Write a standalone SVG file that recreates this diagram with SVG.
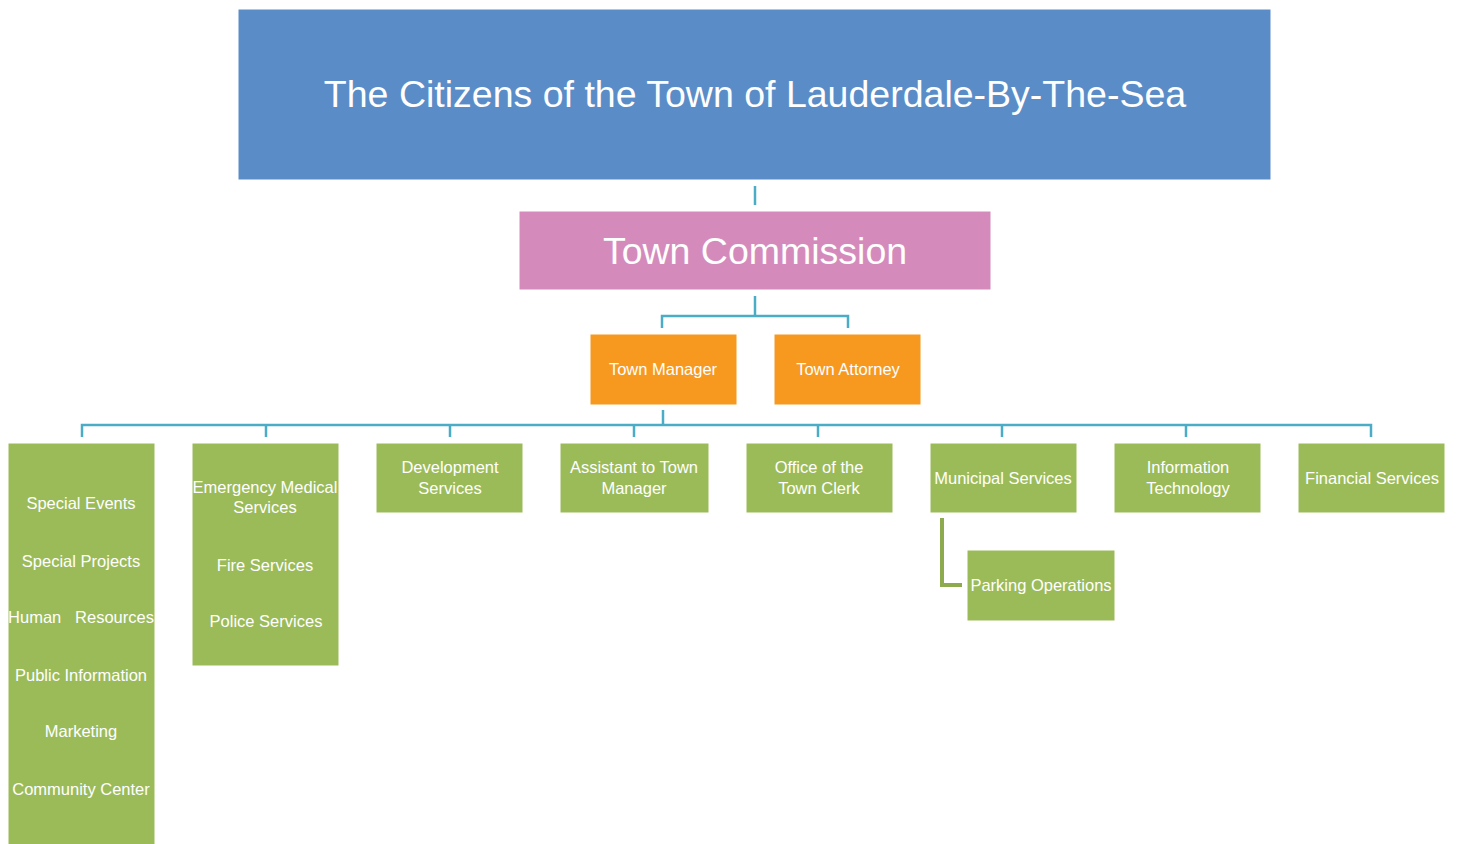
<svg xmlns="http://www.w3.org/2000/svg" width="1460" height="844" viewBox="0 0 1460 844">
<style>
text{font-family:"Liberation Sans",Arial,sans-serif;fill:#fff;text-anchor:middle}
.s{font-size:16.5px;white-space:pre}
.big{font-size:37.5px}
.g{fill:#9BBB59;stroke:#fff;stroke-width:1}
.o{fill:#F7991F;stroke:#fff;stroke-width:1}
.c{fill:none;stroke:#4BACC6;stroke-width:2.5}
</style>
<rect width="1460" height="844" fill="#fff"/>
<g id="connectors">
<path class="c" d="M755 186V205"/>
<path class="c" stroke-width="3.5" d="M755 296V316"/>
<path class="c" d="M662 328V316H848V328"/>
<path class="c" stroke-width="3.5" d="M663 410V425"/>
<path class="c" d="M82 437V425H1371V437M266 425V437M450 425V437M634 425V437M818 425V437M1002 425V437M1186 425V437"/>
<path fill="none" stroke="#8DAA4F" stroke-width="4" d="M942 518V585H962"/>
</g>
<g id="citizens">
<rect x="238" y="9" width="1033" height="171" fill="#5A8DC8" stroke="#fff"/>
<text class="big" x="755" y="107">The Citizens of the Town of Lauderdale-By-The-Sea</text>
</g>
<g id="commission">
<rect x="519" y="211" width="472" height="79" fill="#D48BBC" stroke="#fff"/>
<text class="big" x="755" y="264" font-size="38">Town Commission</text>
</g>
<g id="manager">
<rect class="o" x="590" y="334" width="147" height="71"/>
<text class="s" x="663" y="375">Town Manager</text>
</g>
<g id="attorney">
<rect class="o" x="774" y="334" width="147" height="71"/>
<text class="s" x="848" y="375">Town Attorney</text>
</g>
<g id="special">
<rect class="g" x="8" y="443" width="147" height="402"/>
<text class="s" x="81" y="509">Special Events</text>
<text class="s" x="81" y="567">Special Projects</text>
<text class="s" x="81" y="623">Human   Resources</text>
<text class="s" x="81" y="681">Public Information</text>
<text class="s" x="81" y="737">Marketing</text>
<text class="s" x="81" y="795">Community Center</text>
</g>
<g id="emergency">
<rect class="g" x="192" y="443" width="147" height="223"/>
<text class="s" x="265" y="493">Emergency Medical</text>
<text class="s" x="265" y="513">Services</text>
<text class="s" x="265" y="571">Fire Services</text>
<text class="s" x="266" y="627">Police Services</text>
</g>
<g id="development">
<rect class="g" x="376" y="443" width="147" height="70"/>
<text class="s" x="450" y="473">Development</text>
<text class="s" x="450" y="494">Services</text>
</g>
<g id="assistant">
<rect class="g" x="560" y="443" width="149" height="70"/>
<text class="s" x="634" y="473">Assistant to Town</text>
<text class="s" x="634" y="494">Manager</text>
</g>
<g id="clerk">
<rect class="g" x="746" y="443" width="147" height="70"/>
<text class="s" x="819" y="473">Office of the</text>
<text class="s" x="819" y="494">Town Clerk</text>
</g>
<g id="municipal">
<rect class="g" x="930" y="443" width="147" height="70"/>
<text class="s" x="1003" y="484">Municipal Services</text>
</g>
<g id="it">
<rect class="g" x="1114" y="443" width="147" height="70"/>
<text class="s" x="1188" y="473">Information</text>
<text class="s" x="1188" y="494">Technology</text>
</g>
<g id="financial">
<rect class="g" x="1298" y="443" width="147" height="70"/>
<text class="s" x="1372" y="484">Financial Services</text>
</g>
<g id="parking">
<rect class="g" x="967" y="550" width="148" height="71"/>
<text class="s" x="1041" y="591">Parking Operations</text>
</g>
</svg>
